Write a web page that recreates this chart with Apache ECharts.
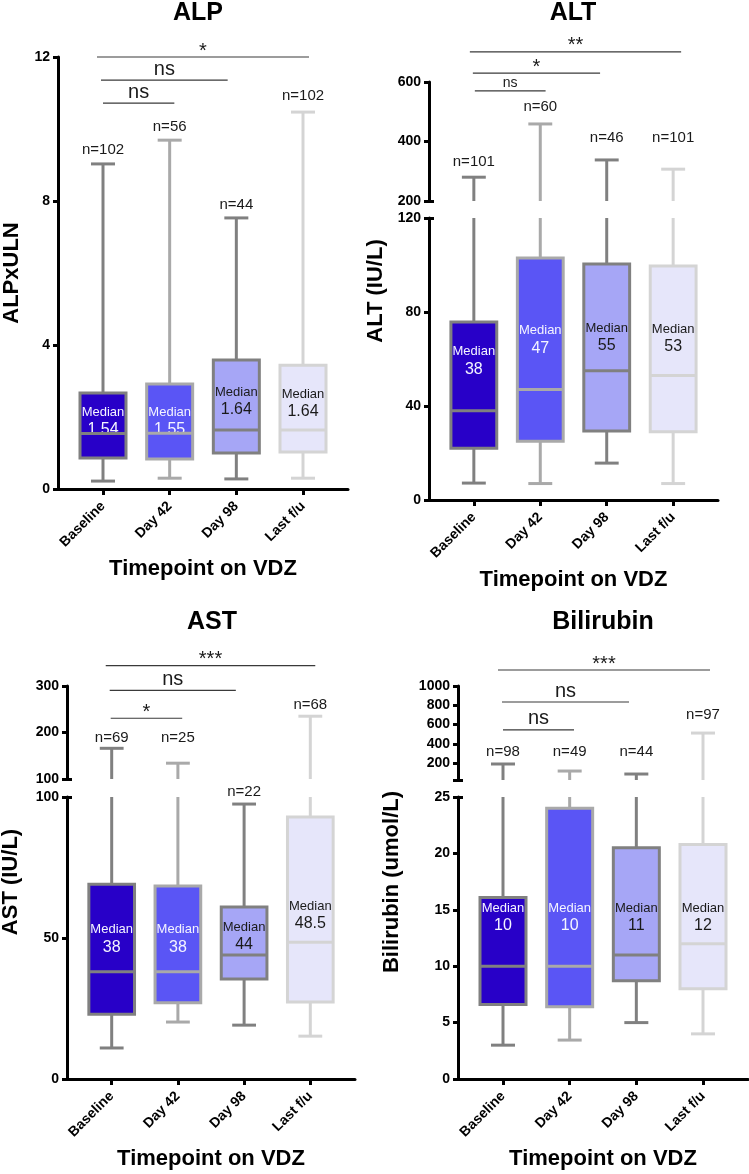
<!DOCTYPE html>
<html><head><meta charset="utf-8">
<script src="https://cdn.jsdelivr.net/npm/echarts@6/dist/echarts.min.js"></script>
<style>html,body{margin:0;padding:0;background:#fff}#c{width:749px;height:1174px}</style>
</head><body><div id="c"></div>
<script>
// ---------------- DATA ----------------
const categories = ['Baseline', 'Day 42', 'Day 98', 'Last f/u'];
const catPos = [0, 1, 2, 3];

// ALP (xULN)
const alpMin = [0.22, 0.30, 0.28, 0.30];
const alpQ1 = [0.86, 0.83, 1.00, 1.03];
const alpMedian = [1.54, 1.55, 1.64, 1.64];
const alpQ3 = [2.67, 2.92, 3.58, 3.44];
const alpMax = [9.03, 9.69, 7.53, 10.47];
const alpN = [102, 56, 44, 102];
const alpNLabelAt = [9.42, 10.06, 7.89, 10.92];
const alpMedianLabelAt = [1.86, 1.875, 2.42, 2.375];
const alpTicks = [0, 4, 8, 12];
const alpSig = [
  { from: -0.09, to: 3.09, y: 12.0, label: '*' },
  { from: -0.03, to: 1.87, y: 11.36, label: 'ns' },
  { from: 0, to: 1.07, y: 10.72, label: 'ns' }
];

// ALT (IU/L)
const altMin = [7.2, 7, 15.7, 7];
const altQ1 = [22, 25, 29.4, 29];
const altMedian = [38, 47, 55, 53];
const altQ3 = [75.7, 103, 100.4, 99.6];
const altMax = [280, 459, 338, 307];
const altN = [101, 60, 46, 101];
const altNLabelAt = [331, 516, 412, 412];
const altMedianLabelAt = [59.1, 68, 69, 68.5];
const altLowerTicks = [0, 40, 80, 120];
const altUpperTicks = [200, 400, 600];
const altSig = [
  { from: -0.06, to: 3.12, y: 701, label: '**' },
  { from: -0.015, to: 1.9, y: 630, label: '*' },
  { from: 0.015, to: 1.08, y: 570, label: 'ns' }
];

// AST (IU/L)
const astMin = [11, 20.2, 19.1, 15.2];
const astQ1 = [23, 27, 35.5, 27.3];
const astMedian = [38, 38, 44, 48.5];
const astQ3 = [69.1, 68.4, 61, 92.9];
const astMax = [166, 134, 97.5, 235];
const astN = [69, 25, 22, 68];
const astNLabelAt = [188, 188, 102, 260];
const astMedianLabelAt = [49.6, 49.6, 50.5, 57.8];
const astLowerTicks = [0, 50, 100];
const astUpperTicks = [100, 200, 300];
const astSig = [
  { from: -0.09, to: 3.075, y: 344, label: '***' },
  { from: -0.03, to: 1.875, y: 290.5, label: 'ns' },
  { from: -0.015, to: 1.065, y: 230.6, label: '*' }
];

// Bilirubin (umol/L)
const biliMin = [3.0, 3.45, 5.0, 4.0];
const biliQ1 = [6.6, 6.4, 8.7, 8.0];
const biliMedian = [10, 10, 11, 12];
const biliQ3 = [16.1, 24.0, 20.5, 20.8];
const biliMax = [191, 118, 87, 512];
const biliN = [98, 49, 44, 97];
const biliNLabelAt = [315, 315, 315, 699];
const biliMedianLabelAt = [14.3, 14.3, 14.3, 14.3];
const biliLowerTicks = [0, 5, 10, 15, 20, 25];
const biliUpperTicks = [25, 200, 400, 600, 800, 1000];
const biliUpperLabels = [200, 400, 600, 800, 1000];
const biliSig = [
  { from: -0.075, to: 3.105, y: 1166, label: '***' },
  { from: -0.015, to: 1.89, y: 834, label: 'ns' },
  { from: 0, to: 1.065, y: 544, label: 'ns' }
];

// ---------------- STYLE / LAYOUT ----------------
const FONT = "'Liberation Sans', Arial, Helvetica, sans-serif";
const boxFill = ['#2800c8', '#5a55f5', '#a6a6f6', '#e6e6fa'];
const boxStroke = ['#808080', '#a9a9a9', '#808080', '#d4d4d4'];
const medianTextColor = ['#f4f4ff', '#f4f4ff', '#1a1a1a', '#1a1a1a'];

const panels = [
  {
    title: 'ALP', yName: 'ALPxULN',
    min: alpMin, q1: alpQ1, med: alpMedian, q3: alpQ3, max: alpMax, n: alpN,
    nAt: alpNLabelAt, medAt: alpMedianLabelAt, sig: alpSig,
    lower: { min: 0, max: 12, ticks: alpTicks, labels: alpTicks },
    upper: null,
    box: { left: 58, right: 348, lowerTop: 57, lowerBottom: 489 },
    titlePos: [198, 13], yNamePos: [12, 273], nsSize: 20
  },
  {
    title: 'ALT', yName: 'ALT (IU/L)',
    min: altMin, q1: altQ1, med: altMedian, q3: altQ3, max: altMax, n: altN,
    nAt: altNLabelAt, medAt: altMedianLabelAt, sig: altSig,
    lower: { min: 0, max: 120, ticks: altLowerTicks, labels: altLowerTicks },
    upper: { min: 200, max: 600, ticks: altUpperTicks, labels: altUpperTicks },
    box: { left: 429, right: 718, upperTop: 82, upperBottom: 201, lowerTop: 218, lowerBottom: 500 },
    titlePos: [573, 13], yNamePos: [376, 291], nsSize: 14
  },
  {
    title: 'AST', yName: 'AST (IU/L)',
    min: astMin, q1: astQ1, med: astMedian, q3: astQ3, max: astMax, n: astN,
    nAt: astNLabelAt, medAt: astMedianLabelAt, sig: astSig,
    lower: { min: 0, max: 100, ticks: astLowerTicks, labels: astLowerTicks },
    upper: { min: 100, max: 300, ticks: astUpperTicks, labels: astUpperTicks },
    box: { left: 67, right: 355, upperTop: 686, upperBottom: 779, lowerTop: 797, lowerBottom: 1079 },
    titlePos: [212, 622], yNamePos: [11, 882], nsSize: 20
  },
  {
    title: 'Bilirubin', yName: 'Bilirubin (umol/L)',
    min: biliMin, q1: biliQ1, med: biliMedian, q3: biliQ3, max: biliMax, n: biliN,
    nAt: biliNLabelAt, medAt: biliMedianLabelAt, sig: biliSig,
    lower: { min: 0, max: 25, ticks: biliLowerTicks, labels: biliLowerTicks },
    upper: { min: 25, max: 1000, ticks: biliUpperTicks, labels: biliUpperLabels },
    box: { left: 458, right: 748, upperTop: 686, upperBottom: 780, lowerTop: 797, lowerBottom: 1079 },
    titlePos: [603, 622], yNamePos: [392, 882], nsSize: 20
  }
];

const X_MIN = -0.675, X_MAX = 3.675;
const BOX_W = 0.69, CAP_W = 0.36;

// ---------------- BUILD OPTION ----------------
const grid = [], xAxis = [], yAxis = [], series = [], graphic = [];

function axisLineStyle() { return { color: '#000', width: 3 }; }

function makeYAxis(gi, seg) {
  return {
    type: 'value', gridIndex: gi, min: seg.min, max: seg.max, position: 'left',
    axisLine: { show: true, onZero: false, lineStyle: axisLineStyle() },
    axisTick: { show: true, customValues: seg.ticks, length: 5, lineStyle: { color: '#000', width: 3 } },
    axisLabel: { show: true, customValues: seg.labels, formatter: v => String(v), color: '#000', fontFamily: FONT, fontWeight: 'bold', fontSize: 14, margin: 8 },
    splitLine: { show: false }
  };
}
function makeCapAxis(gi, seg, value) {
  return {
    type: 'value', gridIndex: gi, min: seg.min, max: seg.max, position: 'left', offset: 0,
    axisLine: { show: false, onZero: false },
    axisTick: { show: true, inside: true, customValues: [value], length: 5, lineStyle: { color: '#000', width: 3 } },
    axisLabel: { show: false }, splitLine: { show: false }
  };
}

function lineEl(x1, y1, x2, y2, color, w) {
  return { type: 'line', shape: { x1, y1, x2, y2 }, style: { stroke: color, lineWidth: w, lineCap: 'butt' } };
}

function boxRender(panel, segment) {
  return function (params, api) {
    const i = params.dataIndex;
    const x = api.coord([api.value(0), 0])[0];
    const mn = api.value(1), q1 = api.value(2), med = api.value(3), q3 = api.value(4), mx = api.value(5);
    const yy = v => api.coord([api.value(0), v])[1];
    const half = api.size([BOX_W, 0])[0] / 2;
    const capHalf = api.size([CAP_W, 0])[0] / 2;
    const col = boxStroke[i];
    const ch = [];
    const broken = !!panel.upper;
    const nInUpper = broken && mx > panel.lower.max;
    const nLabel = {
      type: 'text',
      style: { text: 'n=' + panel.n[i], x: x, y: yy(panel.nAt[i]), align: 'center', verticalAlign: 'middle', fill: '#1a1a1a', font: '15px ' + FONT }
    };
    if (segment === 'lower') {
      const top = broken ? Math.min(mx, panel.lower.max) : mx;
      ch.push(lineEl(x, yy(q3), x, yy(top), col, 3));
      if (!nInUpper) ch.push(lineEl(x - capHalf, yy(mx), x + capHalf, yy(mx), col, 3));
      ch.push(lineEl(x, yy(q1), x, yy(mn), col, 3));
      ch.push(lineEl(x - capHalf, yy(mn), x + capHalf, yy(mn), col, 3));
      const yt = yy(q3), yb = yy(q1);
      ch.push({ type: 'rect', shape: { x: x - half, y: yt, width: half * 2, height: yb - yt }, style: { fill: boxFill[i], stroke: col, lineWidth: 3 } });
      ch.push({
        type: 'text',
        style: {
          text: '{a|Median}\n{b|' + med + '}', x: x, y: yy(panel.medAt[i]), align: 'center', verticalAlign: 'middle',
          rich: {
            a: { fontFamily: FONT, fontSize: 13, lineHeight: 16, fill: medianTextColor[i], align: 'center' },
            b: { fontFamily: FONT, fontSize: 16, lineHeight: 19, fill: medianTextColor[i], align: 'center' }
          }
        }
      });
      ch.push(lineEl(x - half, yy(med), x + half, yy(med), col, 3));
      if (!nInUpper) ch.push(nLabel);
    } else {
      if (mx > panel.upper.min) {
        ch.push(lineEl(x, yy(panel.upper.min), x, yy(mx), col, 3));
        ch.push(lineEl(x - capHalf, yy(mx), x + capHalf, yy(mx), col, 3));
      }
      if (nInUpper) ch.push(nLabel);
    }
    return { type: 'group', children: ch };
  };
}

function sigRender(panel) {
  return function (params, api) {
    const s = panel.sig[params.dataIndex];
    const p1 = api.coord([api.value(0), api.value(2)]);
    const p2 = api.coord([api.value(1), api.value(2)]);
    const isNs = s.label === 'ns';
    const size = isNs ? panel.nsSize : 20;
    const off = isNs ? panel.nsSize * 0.55 : 6;
    return {
      type: 'group', children: [
        lineEl(p1[0], p1[1], p2[0], p2[1], '#3a3a3a', 1.2),
        { type: 'text', style: { text: s.label, x: (p1[0] + p2[0]) / 2, y: p1[1] - off, align: 'center', verticalAlign: 'middle', fill: '#1a1a1a', font: size + 'px ' + FONT } }
      ]
    };
  };
}

panels.forEach(p => {
  const b = p.box;
  const rows = catPos.map((c, i) => [c, p.min[i], p.q1[i], p.med[i], p.q3[i], p.max[i]]);
  const gL = grid.length;
  grid.push({ left: b.left, top: b.lowerTop, width: b.right - b.left, height: b.lowerBottom - b.lowerTop, containLabel: false, outerBoundsMode: 'none' });
  const xL = xAxis.length;
  xAxis.push({
    type: 'value', gridIndex: gL, min: X_MIN, max: X_MAX,
    axisLine: { show: true, onZero: false, lineStyle: axisLineStyle() },
    axisTick: { show: true, customValues: catPos, length: 6, lineStyle: { color: '#000', width: 3 } },
    axisLabel: { show: true, customValues: catPos, rotate: 45, formatter: v => categories[Math.round(v)], color: '#000', fontFamily: FONT, fontWeight: 'bold', fontSize: 14, margin: 15 },
    splitLine: { show: false },
    name: 'Timepoint on VDZ', nameLocation: 'middle', nameGap: 69,
    nameTextStyle: { fontFamily: FONT, fontWeight: 'bold', fontSize: 22, color: '#000' }
  });
  const yL = yAxis.length;
  yAxis.push(makeYAxis(gL, p.lower));
  if (p.upper) yAxis.push(makeCapAxis(gL, p.lower, p.lower.max));
  series.push({ type: 'custom', xAxisIndex: xL, yAxisIndex: yL, data: rows, encode: { x: 0, y: [1, 2, 3, 4, 5] }, renderItem: boxRender(p, 'lower'), clip: false, silent: true });

  let sigX = xL, sigY = yL;
  if (p.upper) {
    const gU = grid.length;
    grid.push({ left: b.left, top: b.upperTop, width: b.right - b.left, height: b.upperBottom - b.upperTop, containLabel: false, outerBoundsMode: 'none' });
    const xU = xAxis.length;
    xAxis.push({ type: 'value', gridIndex: gU, min: X_MIN, max: X_MAX, show: false, axisLine: { onZero: false }, splitLine: { show: false } });
    const yU = yAxis.length;
    yAxis.push(makeYAxis(gU, p.upper));
    yAxis.push(makeCapAxis(gU, p.upper, p.upper.min));
    series.push({ type: 'custom', xAxisIndex: xU, yAxisIndex: yU, data: rows, encode: { x: 0, y: [1, 2, 3, 4, 5] }, renderItem: boxRender(p, 'upper'), clip: false, silent: true });
    sigX = xU; sigY = yU;
  }
  series.push({
    type: 'custom', xAxisIndex: sigX, yAxisIndex: sigY,
    data: p.sig.map(s => [s.from, s.to, s.y]),
    encode: { x: [0, 1], y: 2 }, renderItem: sigRender(p), clip: false, silent: true
  });

  graphic.push({ type: 'text', x: p.titlePos[0], y: p.titlePos[1], style: { text: p.title, align: 'center', verticalAlign: 'middle', fill: '#000', font: 'bold 25px ' + FONT } });
  graphic.push({ type: 'text', x: p.yNamePos[0], y: p.yNamePos[1], rotation: Math.PI / 2, style: { text: p.yName, align: 'center', verticalAlign: 'middle', fill: '#000', font: 'bold 22px ' + FONT } });
});

const chart = echarts.init(document.getElementById('c'), null, { renderer: 'canvas' });
chart.setOption({
  backgroundColor: '#fff',
  animation: false,
  grid, xAxis, yAxis, series, graphic
});
</script>
</body></html>
